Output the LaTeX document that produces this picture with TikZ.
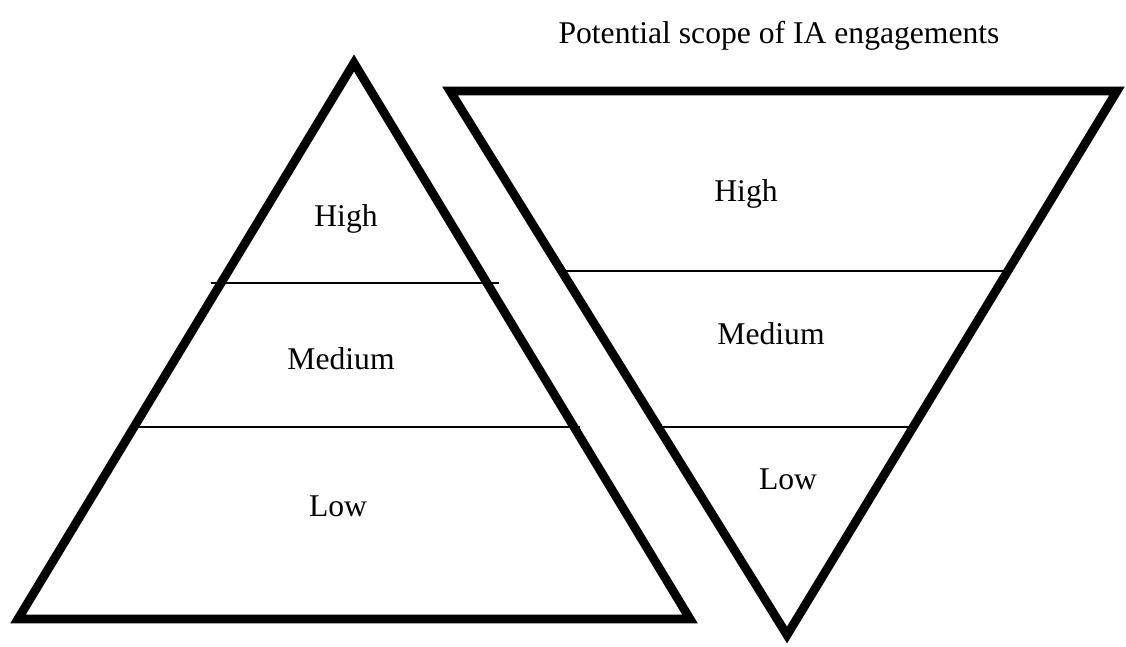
\documentclass[tikz,border=0pt]{standalone}
\usepackage{fontspec}
\setmainfont{Liberation Serif}
\usepackage{tikz}
\usetikzlibrary{positioning,calc}
\tikzset{
  tribox/.style={line width=5pt, line join=miter},
  levelline/.style={line width=0.85pt},
  levellabel/.style={anchor=base, inner sep=0pt, font=\fontsize{18}{22}\selectfont}
}

\begin{document}
\begin{tikzpicture}
                    \useasboundingbox (0,0) rectangle (22.52,12.94);
                    % left pyramid
                    \draw[tribox] (7.08,11.68) -- (0.36,0.56) -- (13.80,0.56) -- cycle;
                    \draw[levelline] (4.22,7.28) -- (9.98,7.28);
                    \draw[levelline] (2.66,4.40) -- (11.60,4.40);
                    \node[levellabel] (lhigh) at (6.92,8.40) {High};
                    \node[levellabel] (lmed) at (6.82,5.54) {Medium};
                    \node[levellabel] (llow) at (6.76,2.60) {Low};

                    % right (inverted) pyramid
                    \draw[tribox] (9.00,11.12) -- (22.34,11.12) -- (15.74,0.24) -- cycle;
                    \draw[levelline] (11.30,7.52) -- (20.20,7.52);
                    \draw[levelline] (13.20,4.40) -- (18.28,4.40);
                    \node[levellabel] (rhigh) at (14.92,8.90) {High};
                    \node[levellabel] (rmed) at (15.42,6.04) {Medium};
                    \node[levellabel] (rlow) at (15.76,3.14) {Low};

                    \node[levellabel] (title) at (15.58,12.06) {Potential scope of IA engagements};
                \end{tikzpicture}
\end{document}
